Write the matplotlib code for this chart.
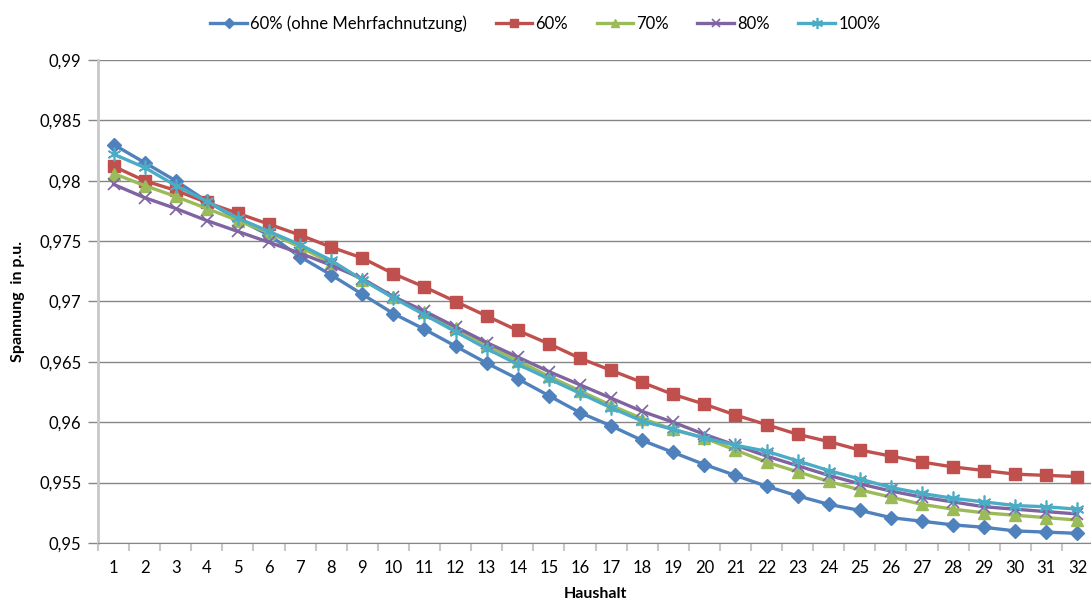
import matplotlib
matplotlib.use('Agg')
import matplotlib.pyplot as plt
from matplotlib.ticker import FuncFormatter, MultipleLocator

plt.rcParams['font.family'] = ['Lato', 'DejaVu Sans']

haushalt = list(range(1, 33))

v60_ohne = [0.9830, 0.9815, 0.9800, 0.9783, 0.9768, 0.9755, 0.9737, 0.9722,
            0.9706, 0.9690, 0.9677, 0.9663, 0.9649, 0.9636, 0.9622, 0.9608,
            0.9597, 0.9585, 0.9575, 0.9565, 0.9556, 0.9547, 0.9539, 0.9532,
            0.9527, 0.9521, 0.9518, 0.9515, 0.9513, 0.9510, 0.9509, 0.9508]
v60 = [0.9812, 0.9800, 0.9792, 0.9782, 0.9773, 0.9764, 0.9755, 0.9745,
       0.9736, 0.9723, 0.9712, 0.9700, 0.9688, 0.9676, 0.9665, 0.9653,
       0.9643, 0.9633, 0.9623, 0.9615, 0.9606, 0.9598, 0.9590, 0.9584,
       0.9577, 0.9572, 0.9567, 0.9563, 0.9560, 0.9557, 0.9556, 0.9555]
v70 = [0.9806, 0.9796, 0.9787, 0.9777, 0.9767, 0.9757, 0.9745, 0.9732,
       0.9718, 0.9704, 0.9691, 0.9678, 0.9664, 0.9651, 0.9638, 0.9626,
       0.9614, 0.9603, 0.9594, 0.9587, 0.9577, 0.9567, 0.9559, 0.9551,
       0.9544, 0.9538, 0.9532, 0.9528, 0.9525, 0.9523, 0.9521, 0.9519]
v80 = [0.9797, 0.9786, 0.9777, 0.9767, 0.9758, 0.9749, 0.9740, 0.9730,
       0.9719, 0.9704, 0.9692, 0.9679, 0.9666, 0.9654, 0.9642, 0.9631,
       0.9620, 0.9609, 0.9600, 0.9590, 0.9581, 0.9572, 0.9564, 0.9556,
       0.9549, 0.9543, 0.9538, 0.9534, 0.9530, 0.9528, 0.9526, 0.9524]
v100 = [0.9822, 0.9811, 0.9796, 0.9783, 0.9769, 0.9758, 0.9747, 0.9734,
        0.9718, 0.9703, 0.9689, 0.9675, 0.9661, 0.9648, 0.9636, 0.9624,
        0.9612, 0.9601, 0.9594, 0.9587, 0.9581, 0.9576, 0.9568, 0.9560,
        0.9553, 0.9546, 0.9541, 0.9537, 0.9534, 0.9531, 0.9530, 0.9528]

series = [
    ('60% (ohne Mehrfachnutzung)', v60_ohne, '#4F81BD', 'D', 7, 1.0),
    ('60%', v60, '#C0504D', 's', 8, 1.0),
    ('70%', v70, '#9BBB59', '^', 8, 1.0),
    ('80%', v80, '#8064A2', 'x', 8, 1.2),
    ('100%', v100, '#4BACC6', (6, 2, 0), 10, 1.2),
]

fig = plt.figure(figsize=(10.91, 6.06), dpi=100)
ax = fig.add_axes([98 / 1091, 63 / 606, 995 / 1091, 483 / 606])

for label, vals, color, marker, ms, mew in series:
    ax.plot(haushalt, vals, color=color, linewidth=2.4, marker=marker,
            markersize=ms, markeredgewidth=mew, markeredgecolor=color,
            markerfacecolor=color, label=label)

ax.set_xlim(0.5, 32.5)
ax.set_ylim(0.95, 0.99)
ax.yaxis.set_major_locator(MultipleLocator(0.005))
ax.yaxis.set_major_formatter(FuncFormatter(
    lambda v, p: f'{v:.3f}'.rstrip('0').rstrip('.').replace('.', ',')))
ax.set_xticks(haushalt)
ax.set_xticks([i + 0.5 for i in range(0, 33)], minor=True)
ax.tick_params(axis='x', which='major', length=0, labelsize=12, pad=12)
ax.tick_params(axis='x', which='minor', length=6, width=1.5, color='#C8C8C8',
               direction='out')
ax.tick_params(axis='y', length=7, width=1, color='#868686', labelsize=12, pad=5)

ax.grid(axis='y', color='#868686', linewidth=1)
ax.set_axisbelow(True)
for side in ['top', 'right']:
    ax.spines[side].set_visible(False)
ax.spines['left'].set_color('#C8C8C8')
ax.spines['left'].set_linewidth(2)
ax.spines['bottom'].set_color('#868686')

ax.set_xlabel('Haushalt', fontsize=11.5, fontweight='bold', labelpad=8)
ax.set_ylabel('Spannung  in p.u.', fontsize=11.5, fontweight='bold', labelpad=10)

fig.legend(loc='upper center', bbox_to_anchor=(0.5, 1.0), ncol=5, frameon=False,
           fontsize=12, handlelength=2.2, columnspacing=1.7, handletextpad=0.2,
           markerscale=0.8)

fig.savefig('out.png', dpi=100)
